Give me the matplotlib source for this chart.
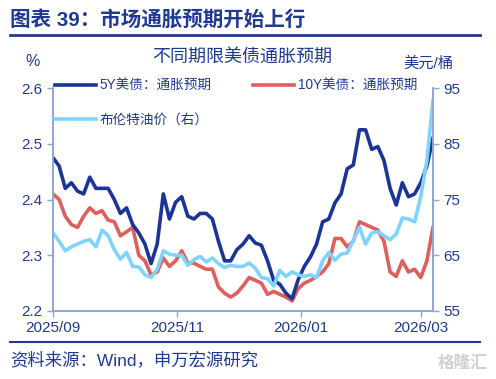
import matplotlib
matplotlib.use("Agg")
import matplotlib.pyplot as plt
import matplotlib.dates as mdates
from matplotlib.lines import Line2D
import pandas as pd

plt.rcParams['font.family'] = ['Liberation Sans', 'Noto Sans CJK SC', 'DejaVu Sans']

# values, roughly every 3 days from 2025-09-01 to 2026-03-07
dates = pd.date_range('2025-09-01', '2026-03-07', periods=63)

be_5y = [2.475, 2.46, 2.42, 2.43, 2.415, 2.41, 2.44, 2.42, 2.42, 2.42,
         2.40, 2.375, 2.385, 2.355, 2.34, 2.32, 2.285, 2.32, 2.41, 2.365,
         2.395, 2.405, 2.37, 2.365, 2.375, 2.375, 2.365, 2.325, 2.29, 2.29,
         2.31, 2.32, 2.335, 2.322, 2.318, 2.29, 2.255, 2.248, 2.232, 2.222,
         2.256, 2.28, 2.297, 2.32, 2.36, 2.365, 2.394, 2.41, 2.455, 2.462,
         2.525, 2.525, 2.49, 2.495, 2.47, 2.42, 2.39, 2.43, 2.405, 2.41,
         2.43, 2.46, 2.51]

be_10y = [2.41, 2.40, 2.37, 2.355, 2.35, 2.37, 2.385, 2.375, 2.38, 2.363,
          2.36, 2.335, 2.342, 2.35, 2.30, 2.29, 2.265, 2.27, 2.295, 2.28,
          2.29, 2.308, 2.286, 2.286, 2.28, 2.275, 2.275, 2.243, 2.232, 2.225,
          2.232, 2.245, 2.26, 2.255, 2.25, 2.23, 2.235, 2.23, 2.225, 2.218,
          2.24, 2.25, 2.255, 2.262, 2.27, 2.285, 2.33, 2.33, 2.315, 2.325,
          2.36, 2.355, 2.35, 2.345, 2.325, 2.27, 2.262, 2.29, 2.27, 2.275,
          2.26, 2.29, 2.35]

brent = [69, 67.5, 65.8, 66.5, 67, 67.5, 67.8, 66.5, 69.5, 68.5,
         66, 64.3, 65.5, 63, 62.9, 61.5, 61, 62.5, 65.8, 65.2,
         65, 65, 63.2, 64.2, 64.8, 63.8, 64.5, 63.5, 62.8, 63.2,
         63, 63, 63.6, 62.7, 61, 60.8, 59.5, 62.3, 61.2, 62,
         61.5, 61.2, 61.5, 61, 64, 65.5, 64.1, 65.2, 65.4, 67.7,
         70, 67, 69, 69.2, 68.5, 67.8, 68.8, 71.7, 71.5, 71,
         75.5, 82, 92.8]

left_ticks = [2.2, 2.3, 2.4, 2.5, 2.6]
right_ticks = [55, 65, 75, 85, 95]
x_ticks = ['2025-09-01', '2025-11-01', '2026-01-01', '2026-03-01']

NAVY = '#1f3a93'
C5 = '#1b3597'
C10 = '#de5f5b'
CB = '#7fd4ff'
SPINE = '#8ea6d0'

fig = plt.figure(figsize=(4.96, 3.79), dpi=100)
ax = fig.add_axes([53 / 496, 1 - 311 / 379, 380 / 496, 223 / 379])
ax2 = ax.twinx()

l10, = ax.plot(dates, be_10y, color=C10, lw=2.6, label='10Y美债：通胀预期')
l5, = ax.plot(dates, be_5y, color=C5, lw=2.6, label='5Y美债：通胀预期')
lb, = ax2.plot(dates, brent, color=CB, lw=2.6, label='布伦特油价（右）')

ax.set_xlim(pd.Timestamp('2025-09-01'), pd.Timestamp('2026-03-07'))
ax.set_ylim(2.2, 2.6)
ax2.set_ylim(55, 95)
ax.set_yticks(left_ticks)
ax.set_yticklabels([f'{v:.1f}' for v in left_ticks])
ax2.set_yticks(right_ticks)
ax.set_xticks(pd.to_datetime(x_ticks))
ax.xaxis.set_major_formatter(mdates.DateFormatter('%Y/%m'))

for a in (ax, ax2):
    a.spines['top'].set_visible(False)
    for s in ('left', 'right', 'bottom'):
        a.spines[s].set_color(SPINE)
        a.spines[s].set_linewidth(1.2)
    a.tick_params(colors=SPINE, labelcolor=NAVY, labelsize=11, length=4, width=1)

fig.text(33 / 496, 1 - 62 / 379, '%', color=NAVY, fontsize=11.5, ha='center', va='center')
fig.text(428 / 496, 1 - 64 / 379, '美元/桶', color=NAVY, fontsize=11, ha='center', va='center')
fig.text(242 / 496, 1 - 57 / 379, '不同期限美债通胀预期', color=NAVY, fontsize=13, ha='center', va='center')

fig.legend(handles=[l5, lb, l10], ncol=2, loc='upper left',
           bbox_to_anchor=(55 / 496, 1 - 79 / 379), frameon=False,
           fontsize=9.8, handlelength=3.0, handletextpad=0.3,
           labelspacing=1.45, columnspacing=3.0, borderpad=0, borderaxespad=0,
           labelcolor=NAVY)

# header and footer
fig.text(10 / 496, 1 - 20 / 379, '图表 39：市场通胀预期开始上行', color=NAVY,
         fontsize=14.8, fontweight='bold', ha='left', va='center')
fig.add_artist(Line2D([10 / 496, 480 / 496], [1 - 35 / 379] * 2, color=NAVY, lw=2))
fig.add_artist(Line2D([10 / 496, 480 / 496], [1 - 342 / 379] * 2, color=NAVY, lw=1.5))
fig.text(10 / 496, 1 - 360 / 379, '资料来源：Wind，申万宏源研究', color=NAVY,
         fontsize=12.5, ha='left', va='center')
fig.text(488 / 496, 1 - 363 / 379, '格隆汇', color='#d0d0d0', fontsize=12,
         ha='right', va='center', fontweight='bold')

fig.savefig('out.png', dpi=100)
